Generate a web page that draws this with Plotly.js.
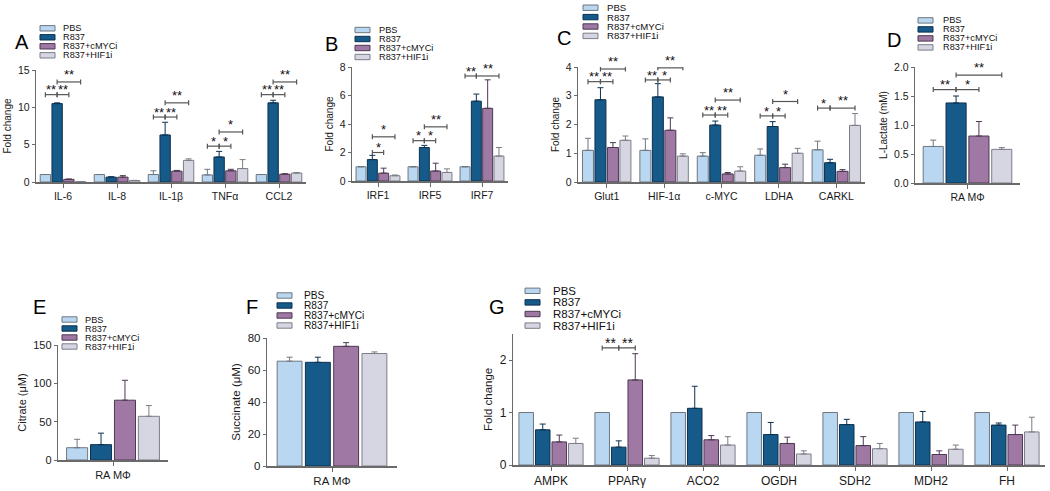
<!DOCTYPE html>
<html><head><meta charset="utf-8">
<script src="https://cdn.plot.ly/plotly-3.0.1.min.js"></script>
<style>html,body{margin:0;padding:0;background:#fff}#chart{width:1050px;height:491px}</style>
</head><body><div id="chart"></div>
<script>
// ---------------- DATA ----------------
const series = ['PBS', 'R837', 'R837+cMYCi', 'R837+HIF1i'];

// Panel A
const catsA = ['IL-6', 'IL-8', 'IL-1β', 'TNFα', 'CCL2'];
const pbsA = [1.0, 1.0, 1.0, 0.95, 1.0];
const pbsA_err = [0, 0, 0.5, 0.75, 0];
const r837A = [10.5, 0.65, 6.3, 3.35, 10.6];
const r837A_err = [0.1, 0.05, 1.7, 0.75, 0.35];
const cmycA = [0.35, 0.65, 1.45, 1.5, 1.05];
const cmycA_err = [0.05, 0.2, 0.1, 0.2, 0.05];
const hifA = [0.05, 0.2, 2.9, 1.8, 1.2];
const hifA_err = [0.02, 0.02, 0.2, 1.2, 0.05];
// significance: [category index, bar i, bar j, bracket value, label]
const sigA = [[0,0,1,11.7,'**'],[0,1,2,11.7,'**'],[0,1,3,13.4,'**'],
              [2,0,1,8.7,'**'],[2,1,2,8.7,'**'],[2,1,3,10.6,'**'],
              [3,0,1,4.8,'*'],[3,1,2,4.8,'*'],[3,1,3,6.7,'*'],
              [4,0,1,11.7,'**'],[4,1,2,11.7,'**'],[4,1,3,13.4,'**']];

// Panel B
const catsB = ['IRF1', 'IRF5', 'IRF7'];
const pbsB = [1.0, 1.0, 1.0];
const pbsB_err = [0, 0, 0];
const r837B = [1.5, 2.35, 5.6];
const r837B_err = [0.3, 0.15, 0.5];
const cmycB = [0.55, 0.7, 5.1];
const cmycB_err = [0.35, 0.55, 2.0];
const hifB = [0.37, 0.6, 1.75];
const hifB_err = [0.05, 0.25, 0.6];
const sigB = [[0,1,2,2.0,'*'],[0,1,3,3.1,'*'],
              [1,0,1,2.83,'*'],[1,1,2,2.83,'*'],[1,1,3,3.8,'**'],
              [2,0,1,7.37,'**'],[2,1,3,7.37,'**']];

// Panel C
const catsC = ['Glut1', 'HIF-1α', 'c-MYC', 'LDHA', 'CARKL'];
const pbsC = [1.1, 1.1, 0.9, 0.93, 1.12];
const pbsC_err = [0.42, 0.4, 0.12, 0.22, 0.3];
const r837C = [2.86, 2.96, 1.98, 1.93, 0.67];
const r837C_err = [0.42, 0.46, 0.14, 0.17, 0.12];
const cmycC = [1.2, 1.8, 0.28, 0.5, 0.37];
const cmycC_err = [0.17, 0.43, 0.05, 0.12, 0.06];
const hifC = [1.45, 0.9, 0.38, 1.0, 1.97];
const hifC_err = [0.15, 0.08, 0.15, 0.17, 0.41];
const sigC = [[0,0,1,3.49,'**'],[0,1,2,3.49,'**'],[0,1,3,3.93,'**'],
              [1,0,1,3.55,'**'],[1,1,2,3.55,'*'],[1,1,3,3.97,'**'],
              [2,0,1,2.33,'**'],[2,1,2,2.33,'**'],[2,1,3,2.85,'**'],
              [3,0,1,2.3,'*'],[3,1,2,2.3,'*'],[3,1,3,2.8,'*'],
              [4,0,1,2.57,'*'],[4,1,3,2.57,'**']];

// Panel D (L-Lactate)
const catsD = ['RA MΦ'];
const pbsD = [0.63]; const pbsD_err = [0.11];
const r837D = [1.38]; const r837D_err = [0.12];
const cmycD = [0.81]; const cmycD_err = [0.25];
const hifD = [0.58]; const hifD_err = [0.03];
const sigD = [[0,0,1,1.61,'**'],[0,1,2,1.61,'*'],[0,1,3,1.86,'**']];

// Panel E (Citrate)
const catsE = ['RA MΦ'];
const pbsE = [16]; const pbsE_err = [11];
const r837E = [20]; const r837E_err = [15];
const cmycE = [78]; const cmycE_err = [26];
const hifE = [57]; const hifE_err = [14];

// Panel F (Succinate)
const catsF = ['RA MΦ'];
const pbsF = [65.5]; const pbsF_err = [2.5];
const r837F = [64.8]; const r837F_err = [3.2];
const cmycF = [74.8]; const cmycF_err = [2.3];
const hifF = [70.3]; const hifF_err = [1.0];

// Panel G
const catsG = ['AMPK', 'PPARγ', 'ACO2', 'OGDH', 'SDH2', 'MDH2', 'FH'];
const pbsG = [1, 1, 1, 1, 1, 1, 1];
const pbsG_err = [0, 0, 0, 0, 0, 0, 0];
const r837G = [0.67, 0.34, 1.08, 0.58, 0.77, 0.82, 0.76];
const r837G_err = [0.11, 0.12, 0.42, 0.23, 0.1, 0.2, 0.04];
const cmycG = [0.44, 1.62, 0.48, 0.41, 0.37, 0.2, 0.58];
const cmycG_err = [0.13, 0.5, 0.08, 0.12, 0.17, 0.07, 0.18];
const hifG = [0.41, 0.13, 0.38, 0.21, 0.31, 0.3, 0.63];
const hifG_err = [0.1, 0.05, 0.16, 0.06, 0.1, 0.08, 0.28];
const sigG = [[1,0,1,2.23,'**'],[1,1,2,2.23,'**']];

// ---------------- STYLE / LAYOUT ----------------
const W = 1050, H = 491;
const FONT = 'Liberation Sans, Arial, Helvetica, sans-serif';
const fills = ['#b9d7f0', '#165a89', '#9f79a3', '#d5d6e2'];
const edges = ['#6e7780', '#0c3150', '#4d3852', '#7d7d88'];
const BARGAP = 0.13, GROUPGAP = 0.12;

const px = v => v / W;
const py = v => 1 - v / H;

// legend blocks: swatch left edge, text left edge, vertical centre, row pitch, font size
const panels = [
  {letter:'A', cats:catsA, vals:[pbsA,r837A,cmycA,hifA], errs:[pbsA_err,r837A_err,cmycA_err,hifA_err], sig:sigA,
   title:'Fold change', range:[0,15], dtick:5, fmt:'', dx:[36,306], dy:[182,70], L:[22,42],
   leg:{sx:40, tx:61, cy:41.8, step:9, fs:9.2}, tf:10.5, ttf:10, sf:13},
  {letter:'B', cats:catsB, vals:[pbsB,r837B,cmycB,hifB], errs:[pbsB_err,r837B_err,cmycB_err,hifB_err], sig:sigB,
   title:'Fold change', range:[0,8], dtick:2, fmt:'', dx:[352,508], dy:[181,67], L:[331,44],
   leg:{sx:355, tx:377, cy:43.5, step:9, fs:9.2}, tf:10.5, ttf:10, sf:13},
  {letter:'C', cats:catsC, vals:[pbsC,r837C,cmycC,hifC], errs:[pbsC_err,r837C_err,cmycC_err,hifC_err], sig:sigC,
   title:'Fold change', range:[0,4], dtick:1, fmt:'', dx:[578,865], dy:[182,67], L:[564,38],
   leg:{sx:583, tx:605, cy:21.8, step:9.4, fs:9.6}, tf:10.5, ttf:10, sf:13},
  {letter:'D', cats:catsD, vals:[pbsD,r837D,cmycD,hifD], errs:[pbsD_err,r837D_err,cmycD_err,hifD_err], sig:sigD,
   title:'L-Lactate (mM)', range:[0,2], dtick:0.5, fmt:'.1f', dx:[915,1020], dy:[183,67], L:[894,40],
   leg:{sx:918, tx:941, cy:33.9, step:9, fs:9.2}, tf:10.5, ttf:10, sf:13},
  {letter:'E', cats:catsE, vals:[pbsE,r837E,cmycE,hifE], errs:[pbsE_err,r837E_err,cmycE_err,hifE_err], sig:[],
   title:'Citrate (μM)', range:[0,150], dtick:50, fmt:'', dx:[58,168], dy:[460,345], L:[39,307],
   leg:{sx:62, tx:83, cy:333, step:9, fs:9.2}, tf:11, ttf:11, sf:14},
  {letter:'F', cats:catsF, vals:[pbsF,r837F,cmycF,hifF], errs:[pbsF_err,r837F_err,cmycF_err,hifF_err], sig:[],
   title:'Succinate (μM)', range:[0,80], dtick:20, fmt:'', dx:[267,397], dy:[466,338], L:[252,307],
   leg:{sx:277, tx:302, cy:310.5, step:10, fs:10.2}, tf:11.5, ttf:11.5, sf:14},
  {letter:'G', cats:catsG, vals:[pbsG,r837G,cmycG,hifG], errs:[pbsG_err,r837G_err,cmycG_err,hifG_err], sig:sigG,
   title:'Fold change', range:[0,2.5], dtick:1, fmt:'', dx:[513,1045], dy:[465,333.75], L:[497,307],
   leg:{sx:525, tx:551, cy:308.2, step:11.6, fs:11.5}, tf:12, ttf:11.5, sf:14}
];

const traces = [];
const layout = {
  width: W, height: H,
  margin: {l:0, r:0, t:0, b:0},
  paper_bgcolor: '#fff', plot_bgcolor: 'rgba(0,0,0,0)',
  font: {family: FONT, color: '#1a1a1a'},
  barmode: 'group', bargap: BARGAP, bargroupgap: GROUPGAP,
  showlegend: false,
  shapes: [], annotations: []
};

const slot = (1 - BARGAP) / 4;
const barX = (cat, i) => cat + (i - 1.5) * slot;

panels.forEach((p, k) => {
  const s = k === 0 ? '' : String(k + 1);
  const xa = 'x' + s, ya = 'y' + s;
  for (let i = 0; i < 4; i++) {
    traces.push({
      type: 'bar', name: series[i], x: p.cats, y: p.vals[i],
      xaxis: xa, yaxis: ya,
      marker: {color: fills[i], line: {color: edges[i], width: 1}},
      error_y: {type: 'data', symmetric: false, array: p.errs[i], arrayminus: p.errs[i].map(() => 0),
                color: edges[i], thickness: 1, width: 3},
      showlegend: false, hoverinfo: 'skip'
    });
  }
  layout['xaxis' + s] = {
    domain: [px(p.dx[0]), px(p.dx[1])], anchor: ya,
    type: 'category', range: [-0.5, p.cats.length - 0.5],
    showline: true, linecolor: '#6a6a6a', linewidth: 1.6,
    ticks: 'outside', ticklen: 4, tickcolor: '#6a6a6a', tickwidth: 1,
    showgrid: false, zeroline: false, fixedrange: true,
    tickfont: {size: p.tf, family: FONT, color: '#1a1a1a'}
  };
  layout['yaxis' + s] = {
    domain: [py(p.dy[0]), py(p.dy[1])], anchor: xa,
    range: p.range, dtick: p.dtick, tick0: 0, tickformat: p.fmt,
    showline: true, linecolor: '#6a6a6a', linewidth: 1.2,
    ticks: 'outside', ticklen: 3, tickcolor: '#6a6a6a',
    showgrid: false, zeroline: false, fixedrange: true,
    tickfont: {size: p.tf, family: FONT, color: '#1a1a1a'},
    title: {text: p.title, font: {size: p.ttf, family: FONT, color: '#1a1a1a'}, standoff: 4}
  };
  // panel letter
  layout.annotations.push({xref:'paper', yref:'paper', x: px(p.L[0]), y: py(p.L[1]),
    xanchor:'center', yanchor:'middle', text: p.letter, showarrow:false,
    font:{size:20, family:FONT, color:'#000'}});
  // legend (swatches + labels)
  series.forEach((name, i) => {
    const r = p.leg.cy + (i - 1.5) * p.leg.step;
    layout.shapes.push({type:'rect', xref:'paper', yref:'paper',
      x0: px(p.leg.sx), x1: px(p.leg.sx + 15), y0: py(r + 2.7), y1: py(r - 2.7),
      fillcolor: fills[i], line:{color: edges[i], width:1}});
    layout.annotations.push({xref:'paper', yref:'paper', x: px(p.leg.tx), y: py(r),
      xanchor:'left', yanchor:'middle', text: name, showarrow:false,
      font:{size:p.leg.fs, family:FONT, color:'#111'}});
  });
  // significance brackets
  p.sig.forEach(([c, i, j, yv, lab]) => {
    const a = barX(c, i), b = barX(c, j);
    layout.shapes.push({type:'line', xref:xa, yref:ya, x0:a, x1:b, y0:yv, y1:yv,
      line:{color:'#555', width:1.2}});
    [a, b].forEach(xx => layout.shapes.push({type:'line', xref:xa, yref:ya,
      ysizemode:'pixel', yanchor:yv, x0:xx, x1:xx, y0:-2.5, y1:2.5,
      line:{color:'#555', width:1.2}}));
    // glyph centre sits a few px above the bracket; wider (outer) brackets lift their stars a little more
    const lift = (j - i >= 2) ? 8 : 5.5;
    layout.annotations.push({xref:xa, yref:ya, x:(a + b) / 2, y:yv, xanchor:'center', yanchor:'bottom',
      yshift: lift - 0.787 * p.sf, text:lab, showarrow:false,
      font:{size:p.sf, family:FONT, color:'#111'}});
  });
});

Plotly.newPlot('chart', traces, layout, {staticPlot: true, displayModeBar: false});
</script>
</body></html>
